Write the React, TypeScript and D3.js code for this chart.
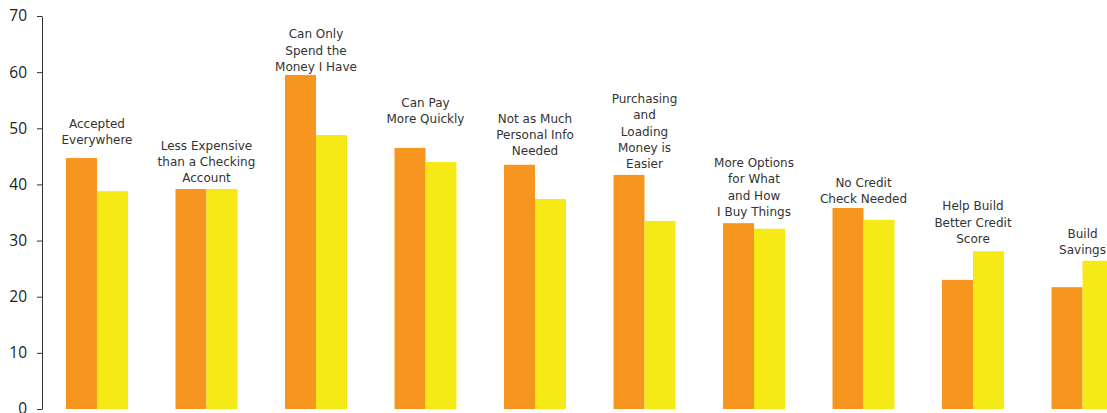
import React, { useEffect, useRef } from "react";
import * as d3 from "d3";

const categories = [
  "Accepted\nEverywhere",
  "Less Expensive\nthan a Checking\nAccount",
  "Can Only\nSpend the\nMoney I Have",
  "Can Pay\nMore Quickly",
  "Not as Much\nPersonal Info\nNeeded",
  "Purchasing\nand\nLoading\nMoney is\nEasier",
  "More Options\nfor What\nand How\nI Buy Things",
  "No Credit\nCheck Needed",
  "Help Build\nBetter Credit\nScore",
  "Build\nSavings",
];
const seriesA = [44.7, 39.2, 59.5, 46.5, 43.5, 41.7, 33.1, 35.8, 23.0, 21.7];
const seriesB = [38.8, 39.2, 48.8, 44.0, 37.4, 33.5, 32.1, 33.7, 28.1, 26.4];
// level (in value units) of the baseline of each annotation's last line
const labelLevels = [47.2, 40.4, 60.2, 50.9, 45.2, 42.9, 34.4, 36.7, 29.6, 27.6];
const yTicks = [0, 10, 20, 30, 40, 50, 60, 70];

const W = 1107;
const H = 413;
const ORANGE = "#F7961E";
const YELLOW = "#F5EA15";

export default function App() {
  const ref = useRef<SVGSVGElement>(null);
  useEffect(() => {
    const svg = d3.select(ref.current);
    svg.selectAll("*").remove();
    const y = d3.scaleLinear().domain([0, 70]).range([409, 16]);
    const x = d3
      .scaleBand<number>()
      .domain(categories.map((_, i) => i))
      .range([42, 1137.5])
      .paddingInner(0.434)
      .paddingOuter(0.219);
    const x1 = d3.scaleBand<number>().domain([0, 1]).range([0, x.bandwidth()]);

    const g = svg.append("g");
    categories.forEach((c, i) => {
      [seriesA[i], seriesB[i]].forEach((v, k) => {
        g.append("rect")
          .attr("x", (x(i) as number) + (x1(k) as number))
          .attr("y", y(v))
          .attr("width", x1.bandwidth())
          .attr("height", y(0) - y(v))
          .attr("fill", k === 0 ? ORANGE : YELLOW);
      });
      const lines = c.split("\n");
      const cx = (x(i) as number) + x.bandwidth() / 2;
      const base = y(labelLevels[i]);
      const t = g
        .append("text")
        .attr("text-anchor", "middle")
        .attr("font-family", "DejaVu Sans, sans-serif")
        .attr("font-size", 12)
        .attr("fill", "#333");
      lines.forEach((ln, j) => {
        t.append("tspan")
          .attr("x", cx)
          .attr("y", base - (lines.length - 1 - j) * 16.3)
          .text(ln);
      });
    });

    const axis = d3
      .axisLeft(y)
      .tickValues(yTicks)
      .tickSize(5)
      .tickSizeOuter(0)
      .tickPadding(10)
      .tickFormat(d3.format("d"));
    const ag = svg.append("g").attr("transform", "translate(42,0)").call(axis);
    ag.selectAll("path, line").attr("stroke", "#333");
    ag.selectAll("text")
      .attr("font-family", "Open Sans, sans-serif")
      .attr("font-size", 15.5)
      .attr("fill", "#222");
  }, []);
  return (
    <svg
      ref={ref}
      width={W}
      height={H}
      style={{ position: "absolute", left: 0, top: 0, display: "block" }}
    />
  );
}
